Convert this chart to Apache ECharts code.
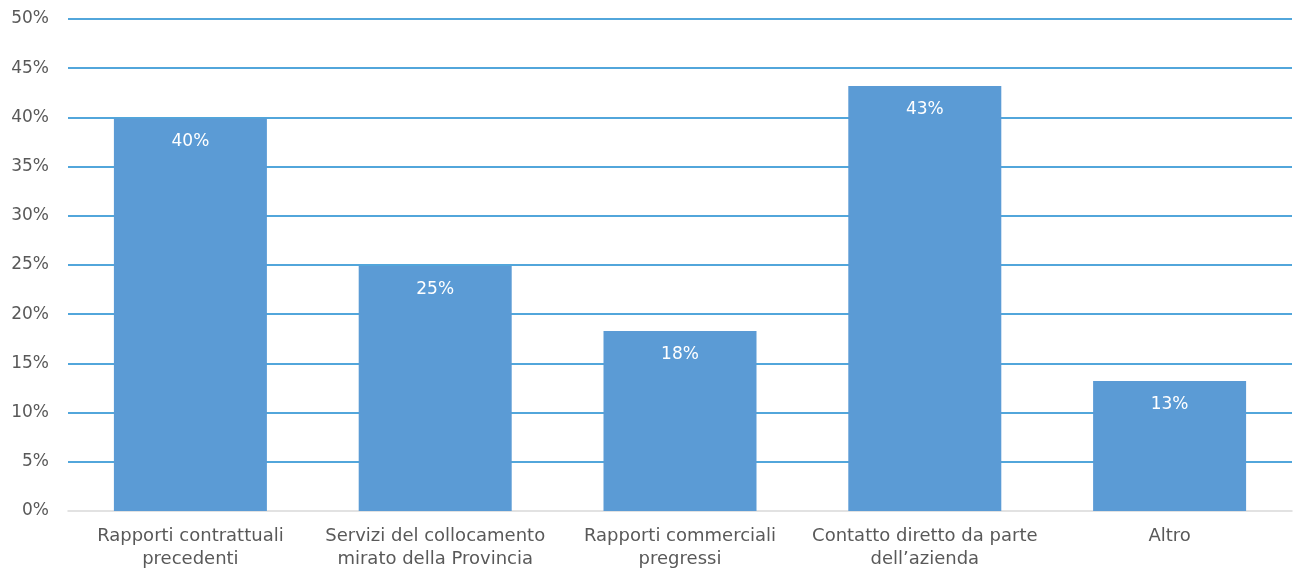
<!DOCTYPE html>
<html><head><meta charset="utf-8">
<script src="https://cdn.jsdelivr.net/npm/echarts@6/dist/echarts.min.js"></script>
<style>html,body{margin:0;padding:0;background:#fff}#c{width:1293px;height:570px}</style>
</head><body><div id="c"></div>
<script>
const categories = ["Rapporti contrattuali\nprecedenti", "Servizi del collocamento\nmirato della Provincia", "Rapporti commerciali\npregressi", "Contatto diretto da parte\ndell\u2019azienda", "Altro"];
const values = [0.399, 0.249, 0.183, 0.432, 0.132];
const yTicks = [0, 0.05, 0.10, 0.15, 0.20, 0.25, 0.30, 0.35, 0.40, 0.45, 0.50];

const FONT = '"DejaVu Sans", sans-serif';
const chart = echarts.init(document.getElementById('c'));
chart.setOption({
  animation: false,
  textStyle: {fontFamily: FONT},
  grid: {left: 68, right: 1, top: 19, bottom: 59, containLabel: false, outerBoundsMode: 'none'},
  xAxis: {
    type: 'category', data: categories,
    axisLine: {lineStyle: {color: '#d9d9d9', width: 1.5}},
    axisTick: {show: false},
    axisLabel: {color: '#595959', fontSize: 18, lineHeight: 23, margin: 14, interval: 0, fontFamily: FONT}
  },
  yAxis: {
    type: 'value', min: 0, max: 0.5, interval: 0.05,
    axisLine: {show: false}, axisTick: {show: false},
    splitLine: {showMinLine: false, lineStyle: {color: '#1888cf', width: 1.5}},
    axisLabel: {color: '#595959', fontSize: 17, margin: 19, fontFamily: FONT,
      formatter: v => Math.round(v * 100) + '%'}
  },
  series: [{
    type: 'bar', data: values, barWidth: '62.5%',
    itemStyle: {color: '#5b9bd5'},
    label: {show: true, position: 'insideTop', distance: 15, color: '#fff', fontSize: 17,
      fontFamily: FONT,
      formatter: p => Math.round(p.value * 100) + '%'}
  }]
});
</script></body></html>
